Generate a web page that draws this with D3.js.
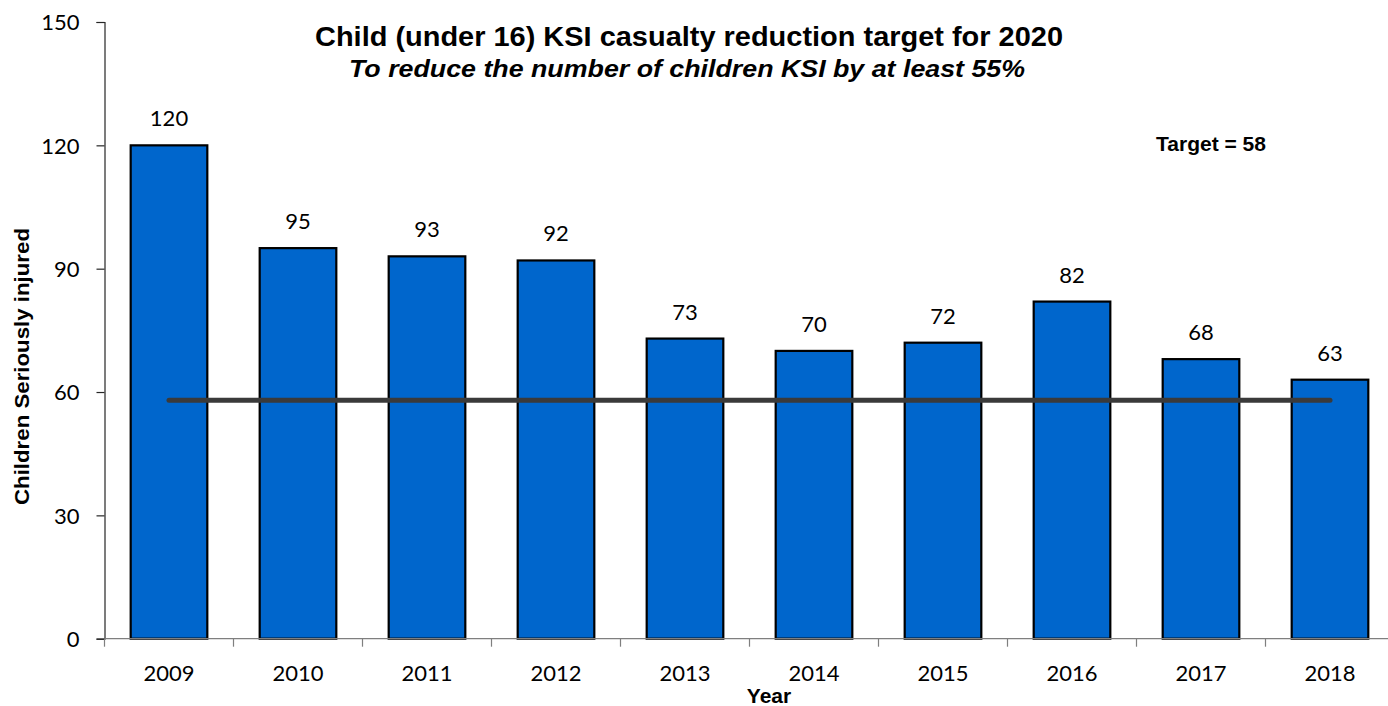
<!DOCTYPE html>
<html>
<head>
<meta charset="utf-8">
<script src="https://cdn.jsdelivr.net/npm/d3@7"></script>
<style>
  body { margin: 0; background: #fff; }
  svg { display: block; }
  .num { font-family: Lato, "Open Sans", sans-serif; font-size: 22px; fill: #000; }
  .bold { font-family: "Liberation Sans", Arial, sans-serif; font-weight: bold; fill: #000; }
</style>
</head>
<body>
<script>
// chart data
var years = ["2009", "2010", "2011", "2012", "2013", "2014", "2015", "2016", "2017", "2018"];
var injured = [120, 95, 93, 92, 73, 70, 72, 82, 68, 63];
var target = 58;
var yTicks = [0, 30, 60, 90, 120, 150];

var data = years.map(function(y, i) { return { year: y, value: injured[i] }; });

var w = 1388, h = 706;

var svg = d3.select("body").append("svg")
  .attr("width", w)
  .attr("height", h);

var x = d3.scaleBand()
  .domain(years)
  .range([104.5, 1394.5])
  .paddingInner(0.406)
  .paddingOuter(0.203);

var y = d3.scaleLinear()
  .domain([0, 150])
  .range([638.7, 22]);

// y axis
var yAxis = d3.axisLeft(y).tickValues(yTicks).tickSize(8).tickPadding(17).tickFormat(d3.format("d"));
var gy = svg.append("g")
  .attr("transform", "translate(104.5,0)")
  .call(yAxis);
gy.select(".domain").attr("stroke", "#262626").attr("stroke-width", 1.2);
gy.selectAll(".tick line").attr("stroke", "#262626").attr("stroke-width", 1.2);
gy.selectAll(".tick text").attr("class", "num").attr("dy", "0.36em");

// bars
svg.selectAll("rect.bar")
  .data(data)
  .enter().append("rect")
  .attr("class", "bar")
  .attr("x", function(d) { return x(d.year); })
  .attr("y", function(d) { return y(d.value); })
  .attr("width", x.bandwidth())
  .attr("height", function(d) { return y(0) - y(d.value); })
  .attr("fill", "#0066cc")
  .attr("stroke", "#000")
  .attr("stroke-width", 2.2);

// x axis (line + ticks at category boundaries)
var gap = (x.step() - x.bandwidth()) / 2;
var bounds = years.map(function(d) { return x(d) - gap; });
bounds.push(x(years[years.length - 1]) + x.bandwidth() + gap);

svg.append("line")
  .attr("x1", 104.5).attr("x2", w)
  .attr("y1", y(0)).attr("y2", y(0))
  .attr("stroke", "#7f7f7f").attr("stroke-width", 1.2);

svg.selectAll("line.xtick")
  .data(bounds)
  .enter().append("line")
  .attr("class", "xtick")
  .attr("x1", function(d) { return d; })
  .attr("x2", function(d) { return d; })
  .attr("y1", y(0))
  .attr("y2", y(0) + 8)
  .attr("stroke", "#7f7f7f").attr("stroke-width", 1.2);

var xAxis = d3.axisBottom(x).tickSize(0).tickPadding(0);
var gx = svg.append("g")
  .attr("transform", "translate(0," + y(0) + ")")
  .call(xAxis);
gx.select(".domain").remove();
gx.selectAll(".tick text").attr("class", "num").attr("dy", null).attr("y", 42);

// value labels
svg.selectAll("text.val")
  .data(data)
  .enter().append("text")
  .attr("class", "num")
  .attr("x", function(d) { return x(d.year) + x.bandwidth() / 2; })
  .attr("y", function(d) { return y(d.value) - 19; })
  .attr("text-anchor", "middle")
  .text(function(d) { return d.value; });

// target line
var cx = function(d) { return x(d) + x.bandwidth() / 2; };
svg.append("line")
  .attr("x1", cx(years[0]))
  .attr("x2", cx(years[years.length - 1]))
  .attr("y1", y(target))
  .attr("y2", y(target))
  .attr("stroke", "#3a3a3a")
  .attr("stroke-width", 5)
  .attr("stroke-linecap", "round");

svg.append("text")
  .attr("class", "bold")
  .attr("x", 1156)
  .attr("y", 150.5)
  .style("font-size", "21px")
  .attr("textLength", 110)
  .attr("lengthAdjust", "spacingAndGlyphs")
  .text("Target = " + target);

// titles
svg.append("text")
  .attr("class", "bold")
  .attr("x", 315)
  .attr("y", 45.5)
  .style("font-size", "27px")
  .attr("textLength", 748)
  .attr("lengthAdjust", "spacingAndGlyphs")
  .text("Child (under 16) KSI casualty reduction target for 2020");

svg.append("text")
  .attr("class", "bold")
  .attr("x", 349)
  .attr("y", 76.5)
  .style("font-size", "23.5px")
  .style("font-style", "italic")
  .attr("textLength", 676)
  .attr("lengthAdjust", "spacingAndGlyphs")
  .text("To reduce the number of children KSI by at least 55%");

svg.append("text")
  .attr("class", "bold")
  .attr("transform", "translate(29,366.5) rotate(-90)")
  .attr("text-anchor", "middle")
  .style("font-size", "21px")
  .attr("textLength", 277)
  .attr("lengthAdjust", "spacingAndGlyphs")
  .text("Children Seriously injured");

svg.append("text")
  .attr("class", "bold")
  .attr("x", 769)
  .attr("y", 703)
  .attr("text-anchor", "middle")
  .style("font-size", "21px")
  .text("Year");
</script>
</body>
</html>
